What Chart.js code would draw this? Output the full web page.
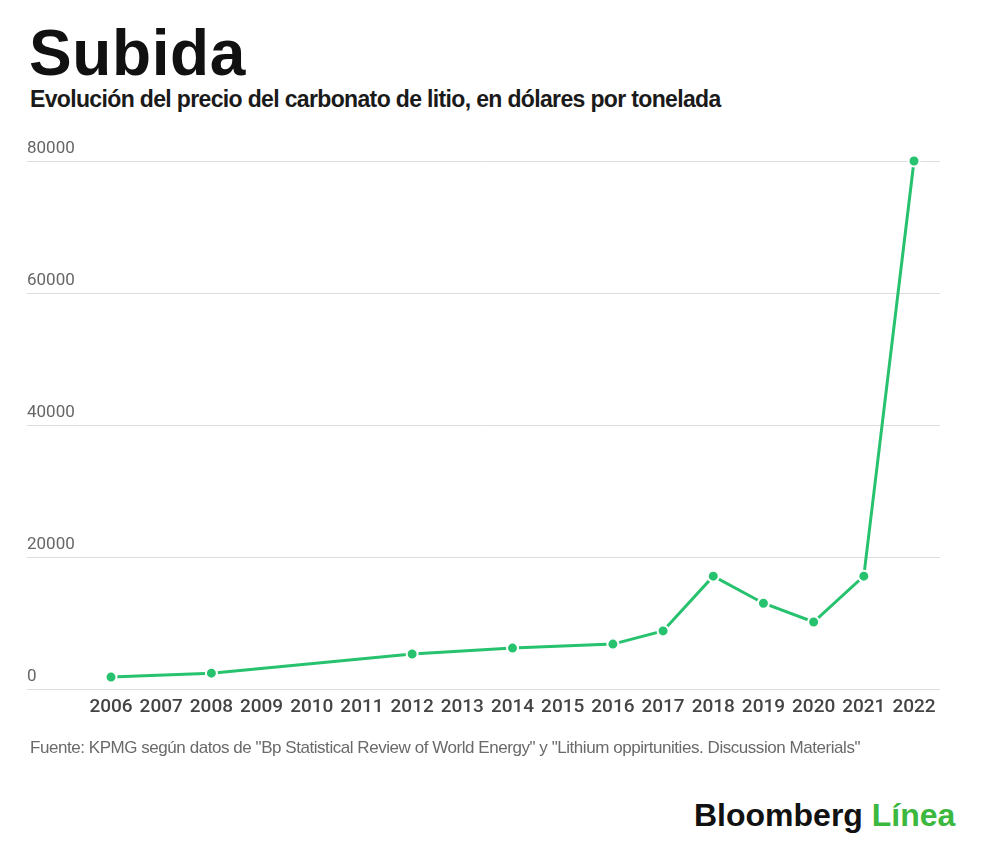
<!DOCTYPE html>
<html>
<head>
<meta charset="utf-8">
<script src="https://cdn.jsdelivr.net/npm/chart.js@4"></script>
<style>
  body { margin: 0; background: #fff; width: 1000px; height: 857px; position: relative; overflow: hidden; font-family: "Liberation Sans", Arial, sans-serif; }
  .txt { position: absolute; line-height: 1; white-space: nowrap; }
  #title { left: 29px; top: 21px; font-size: 64px; font-weight: bold; letter-spacing: 0.6px; color: #111; }
  #subtitle { left: 30px; top: 88px; font-size: 23px; font-weight: bold; letter-spacing: -0.65px; color: #1a1a1a; }
  #source { left: 30px; top: 739px; font-size: 17px; letter-spacing: -0.45px; color: #6a6a6a; }
  #logo { left: 694px; top: 799px; font-size: 32px; font-weight: bold; letter-spacing: 0px; color: #111; }
  #logo span { color: #3db83f; }
  #wrap { position: absolute; left: 0; top: 120px; width: 1000px; height: 620px; }
</style>
</head>
<body>
<div class="txt" id="title">Subida</div>
<div class="txt" id="subtitle">Evolución del precio del carbonato de litio, en dólares por tonelada</div>
<div id="wrap"><canvas id="myChart"></canvas></div>
<div class="txt" id="source">Fuente: KPMG según datos de "Bp Statistical Review of World Energy" y "Lithium oppirtunities. Discussion Materials"</div>
<div class="txt" id="logo">Bloomberg <span>Línea</span></div>
<script>
// Years shown on the x axis
const axisYears = [2006, 2007, 2008, 2009, 2010, 2011, 2012, 2013, 2014, 2015, 2016, 2017, 2018, 2019, 2020, 2021, 2022];
// Years that have a price, and the price (USD per tonne)
const years = [2006, 2008, 2012, 2014, 2016, 2017, 2018, 2019, 2020, 2021, 2022];
const prices = [1800, 2400, 5300, 6200, 6800, 8800, 17100, 13000, 10150, 17100, 80000];
// Y axis ticks
const yTicks = [0, 20000, 40000, 60000, 80000];

const green = "rgb(38, 194, 110)";

const data = {
  datasets: [
    {
      label: "Precio",
      data: years.map((y, i) => ({ x: y, y: prices[i] })),
      borderColor: green,
      borderWidth: 3,
      pointRadius: 5.5,
      pointBackgroundColor: green,
      pointBorderColor: "#fff",
      pointBorderWidth: 2,
      tension: 0,
      clip: false,
    },
  ],
};

const config = {
  type: "line",
  data: data,
  options: {
    responsive: true,
    maintainAspectRatio: false,
    animation: false,
    layout: { padding: { top: 41, left: 27, right: 60, bottom: 0 } },
    plugins: { legend: { display: false }, tooltip: { enabled: false } },
    scales: {
      x: {
        type: "linear",
        min: 2004.326,
        max: 2022.518,
        afterBuildTicks: (axis) => { axis.ticks = axisYears.map((v) => ({ value: v })); },
        afterFit: (axis) => { axis.height = 51; },
        grid: { display: false },
        border: { display: false },
        ticks: {
          autoSkip: false,
          maxRotation: 0,
          padding: -1,
          color: "#444",
          font: { family: "Roboto", size: 19, weight: 500 },
          callback: (v) => String(v),
        },
      },
      y: {
        min: 0,
        max: 80000,
        afterBuildTicks: (axis) => { axis.ticks = yTicks.map((v) => ({ value: v })); },
        afterFit: (axis) => { axis.width = 0; },
        grid: { color: "#dddddd", lineWidth: 1, drawTicks: false },
        border: { display: false },
        ticks: {
          mirror: true,
          padding: 0,
          labelOffset: -12,
          color: "#666",
          font: { family: "Roboto", size: 17 },
          callback: (v) => String(v),
        },
      },
    },
  },
};

const myChart = new Chart(document.getElementById("myChart"), config);
</script>
</body>
</html>
